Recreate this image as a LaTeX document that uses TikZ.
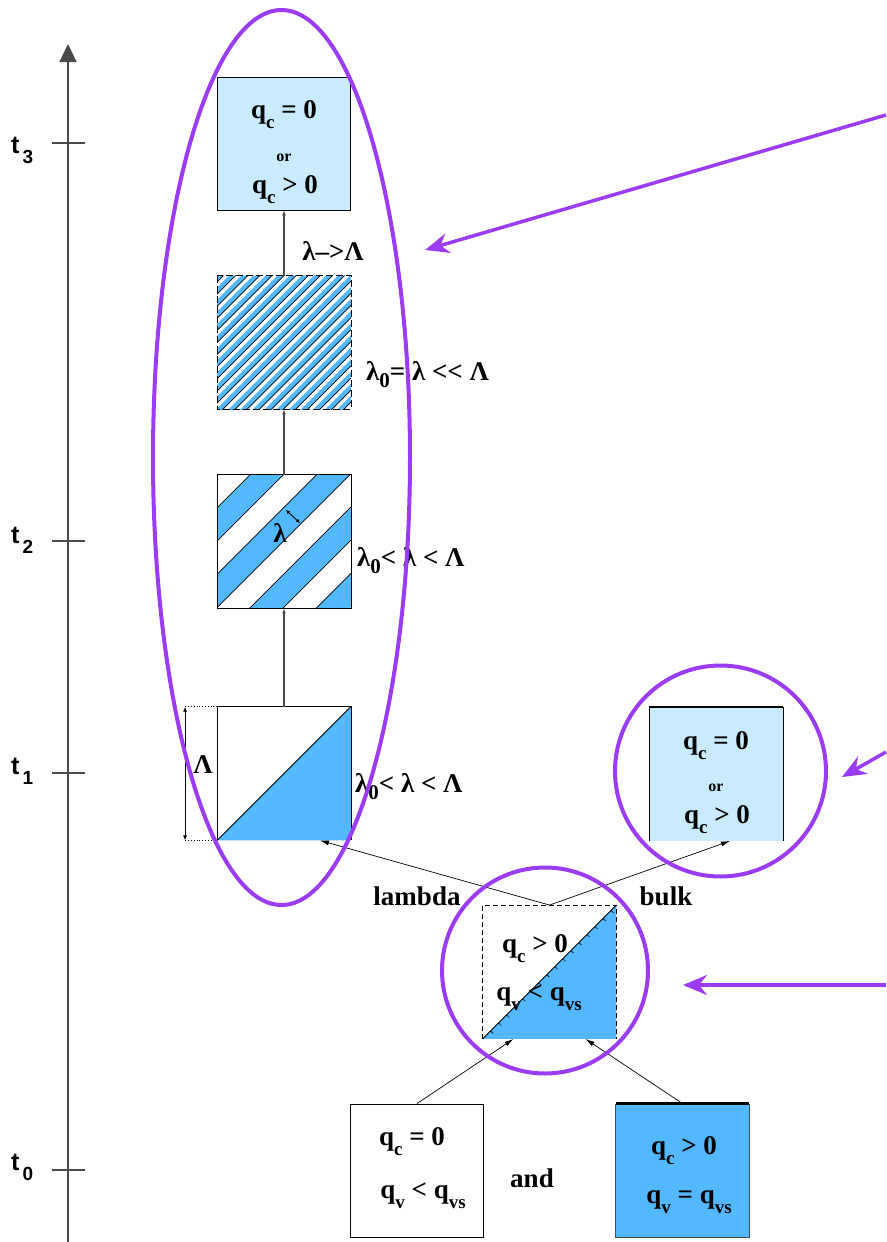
\documentclass[tikz,border=0pt]{standalone}
\usepackage{fontspec}
\setmainfont{Liberation Serif}
\newfontfamily\axisfont{Liberation Sans}
\usetikzlibrary{arrows.meta,calc,shapes.geometric}
\definecolor{skyblue}{HTML}{52B8FF}
\definecolor{paleblue}{HTML}{C8EBFD}
\definecolor{purp}{HTML}{9B3CF4}
\definecolor{axisgray}{HTML}{4A4A4A}
\newcommand{\lo}[1]{\raisebox{-10pt}{\fontsize{19}{19}\selectfont #1}}
\newcommand{\lsub}[1]{\raisebox{-7pt}{\fontsize{21}{21}\selectfont #1}}
\newcommand{\tsub}[1]{\kern3pt\raisebox{-10pt}{\fontsize{19}{19}\selectfont #1}}

\begin{document}
\begin{tikzpicture}[x=1pt, y=-1pt, >=Latex,
    txt/.style={inner sep=0pt, anchor=base, font=\fontsize{27}{29}\selectfont\bfseries},
    small/.style={inner sep=0pt, anchor=base, font=\fontsize{16}{17}\selectfont\bfseries},
    box/.style={draw, line width=0.9pt, minimum size=133pt, inner sep=0pt},
    flow/.style={draw=axisgray, line width=1.2pt, -{Latex[length=5pt,width=4pt]}},
    feed/.style={line width=0.7pt, -{Latex[length=9pt,width=5pt]}},
    halo/.style={draw=purp, line width=4pt, inner sep=0pt},
    callout/.style={draw=purp, line width=3.5pt, -{Stealth[length=24pt,width=20pt,inset=8pt]}}]
  \useasboundingbox (0,0) rectangle (886,1242);

  % time axis
  \coordinate (ax0) at (68,1242);
  \coordinate (ax1) at (68,44);
  \draw[axisgray, line width=1.3pt, -{Triangle[length=18pt,width=17pt]}] (ax0) -- (ax1);
  \foreach \y/\b/\n in {143/153/3, 541/543/2, 773/774/1, 1170/1170/0}{
    \draw[axisgray, line width=1.2pt] (52,\y) -- (85,\y);
    \node[inner sep=0pt, anchor=base west, font=\axisfont\fontsize{25}{26}\selectfont\bfseries] (t\n) at (11,\b) {t\tsub{\n}};
  }

  % boxes
  \node[box, fill=paleblue] (top) at (284,143.5) {};
  \node[box, draw=none] (hatch) at (284,342.5) {};
  \node[box, draw=none] (stripe) at (284,541.5) {};
  \node[box, draw=none] (cut) at (284,773.5) {};
  \node[box, draw=none, fill=paleblue] (bulk) at (716,774) {};
  \node[box, draw=none] (mix) at (549.5,972) {};
  \node[box] (dry) at (417,1170.5) {};
  \node[box, draw=none, fill=skyblue] (wet) at (682.5,1170.5) {};

  % fine stripes
  \begin{scope}
    \clip (hatch.north west) rectangle (hatch.south east);
    \begin{scope}[shift={(hatch.north west)}]
      \foreach \k in {0,...,21}{
        \fill[skyblue] (\k*12.1,0) -- (\k*12.1+6.5,0) -- (0,\k*12.1+6.5) -- (0,\k*12.1) -- cycle;
        \draw[line width=0.7pt] (\k*12.1+6.5,0) -- (0,\k*12.1+6.5);
      }
    \end{scope}
  \end{scope}
  \draw[line width=0.9pt, dash pattern=on 7pt off 3pt] (hatch.north west) rectangle (hatch.south east);

  % wide stripes
  \begin{scope}
    \clip (stripe.north west) rectangle (stripe.south east);
    \begin{scope}[shift={(stripe.north west)}]
      \foreach \k in {1,3,5,7}
        \fill[skyblue] (\k*33.25,0) -- (\k*33.25+33.25,0) -- (0,\k*33.25+33.25) -- (0,\k*33.25) -- cycle;
      \foreach \k in {1,...,7}
        \draw[line width=0.8pt] (\k*33.25,0) -- (0,\k*33.25);
    \end{scope}
  \end{scope}
  \draw[line width=0.9pt] (stripe.north west) rectangle (stripe.south east);
  \node[txt] (bandLbl) at (280,542) {λ};
  \coordinate (bandA) at (286,510);
  \coordinate (bandB) at (300,523);
  \draw[{Latex[length=4pt,width=4pt]}-{Latex[length=4pt,width=4pt]}, line width=0.9pt] (bandA) -- (bandB);

  % first cut
  \fill[skyblue] (cut.south west) -- (cut.south east) -- (cut.north east) -- cycle;
  \draw[line width=0.9pt] (cut.south west) -- (cut.north west) -- (cut.north east) -- (cut.south east);
  \draw[line width=0.9pt] (cut.south west) -- (cut.north east);
  \draw[dotted, line width=0.8pt] (cut.north west) -- ([xshift=-32pt]cut.north west);
  \draw[dotted, line width=0.8pt] (cut.south west) -- ([xshift=-32pt]cut.south west);
  \draw[{Latex[length=5pt,width=4pt]}-{Latex[length=5pt,width=4pt]}, line width=1pt]
    ([xshift=-32pt]cut.north west) -- ([xshift=-32pt]cut.south west);
  \node[txt] (cutDim) at (203,773) {Λ};

  % bulk box
  \draw[line width=0.9pt] (bulk.south west) -- (bulk.north west);
  \draw[line width=0.9pt] (bulk.south east) -- (bulk.north east);
  \draw[line width=2.5pt] (bulk.north west) -- (bulk.north east);

  % mixed box
  \fill[skyblue] (mix.south west) -- (mix.south east) -- (mix.north east) -- cycle;
  \draw[line width=0.9pt, dash pattern=on 5pt off 3pt] (mix.south west) -- (mix.north west) -- (mix.north east) -- (mix.south east);
  \draw[line width=0.9pt] (mix.south west) -- (mix.north east);
  \foreach \s in {0.06,0.12,...,0.96}
    \draw[line width=0.6pt] ($(mix.south west)!\s!(mix.north east)$) -- ++(2.5,2.5);

  % saturated box
  \draw[axisgray, line width=0.9pt] (wet.north west) -- (wet.south west) -- (wet.south east) -- (wet.north east);
  \draw[line width=2.5pt] (wet.north west) -- (wet.north east);

  % texts
  \node[txt] (topA) at (284,118) {q\lo{c} = 0};
  \node[small] (topOr) at (284,161) {or};
  \node[txt] (topB) at (285,193) {q\lo{c} > 0};
  \node[txt] (rateLbl) at (333,260) {λ\textendash>Λ};
  \node[txt, anchor=base west] (hatchLbl) at (366,380) {λ\lsub{0}= λ {<}{<} Λ};
  \node[txt, anchor=base west] (stripeLbl) at (357,566) {λ\lsub{0}< λ < Λ};
  \node[txt, anchor=base west] (cutLbl) at (355,792) {λ\lsub{0}< λ < Λ};
  \node[txt] (bulkA) at (716,749) {q\lo{c} = 0};
  \node[small] (bulkOr) at (716,791) {or};
  \node[txt] (bulkB) at (717,823) {q\lo{c} > 0};
  \node[txt] (mixA) at (535,952) {q\lo{c} > 0};
  \node[txt] (mixB) at (539,1000) {q\lo{v} < q\lo{vs}};
  \node[txt] (dryA) at (412,1145) {q\lo{c} = 0};
  \node[txt] (dryB) at (423,1198) {q\lo{v} < q\lo{vs}};
  \node[txt] (andLbl) at (532,1187) {and};
  \node[txt] (wetA) at (684,1154) {q\lo{c} > 0};
  \node[txt] (wetB) at (689,1203) {q\lo{v} = q\lo{vs}};
  \node[txt] (lamLbl) at (417,905) {lambda};
  \node[txt] (bulkLbl) at (666,905) {bulk};

  % connectors
  \draw[flow] (hatch.north) -- (top.south);
  \draw[flow] (stripe.north) -- (hatch.south);
  \draw[flow] (cut.north) -- (stripe.south);
  \draw[feed] (mix.north) -- ([xshift=36pt]cut.south);
  \draw[feed] (mix.north) -- ([xshift=14pt]bulk.south);
  \draw[feed] (dry.north) -- ([xshift=-36pt]mix.south);
  \draw[feed] (wet.north) -- ([xshift=36pt]mix.south);

  % highlights
  \node[halo, ellipse, minimum width=257pt, minimum height=895pt] (grpL) at (281.5,457.5) {};
  \node[halo, circle, minimum size=211pt] (grpB) at (720.5,771) {};
  \node[halo, circle, minimum size=206pt] (grpM) at (545,970.5) {};
  \coordinate (srcL) at (886,115);
  \coordinate (tipL) at (425,250);
  \coordinate (srcB) at (886,752);
  \coordinate (tipB) at (842,777);
  \coordinate (srcM) at (886,985);
  \coordinate (tipM) at (683,985);
  \draw[callout] (srcL) -- (tipL);
  \draw[callout] (srcB) -- (tipB);
  \draw[callout] (srcM) -- (tipM);
\end{tikzpicture}
\end{document}
